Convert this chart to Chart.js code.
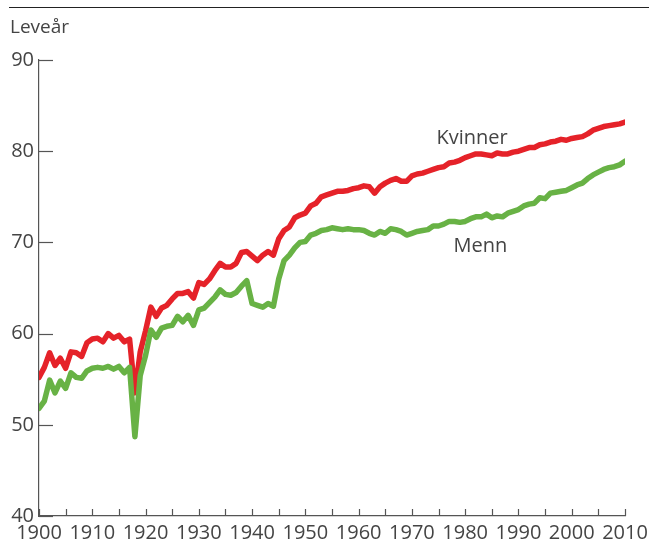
<!DOCTYPE html>
<html>
<head>
<meta charset="utf-8">
<script src="https://cdn.jsdelivr.net/npm/chart.js@4.4.0/dist/chart.umd.min.js"></script>
<style>
html,body{margin:0;padding:0;background:#fff;}
#wrap{width:649px;height:546px;position:relative;}
</style>
</head>
<body>
<div id="wrap"><canvas id="c" width="649" height="546"></canvas></div>
<script>
const startYear = 1900;
const endYear = 2010;
const yTickValues = [40, 50, 60, 70, 80, 90];
const xLabelYears = [1900,1910,1920,1930,1940,1950,1960,1970,1980,1990,2000,2010];
const yAxisTitle = 'Leveår';
const seriesNames = ['Kvinner', 'Menn'];

const kvinner = [
55.2,56.3,57.9,56.5,57.3,56.2,58.0,57.9,57.5,59.0,
59.4,59.5,59.1,60.0,59.5,59.8,59.1,59.4,53.5,58.0,
60.3,62.9,61.9,62.8,63.1,63.8,64.4,64.4,64.6,63.9,
65.6,65.4,66.0,66.9,67.7,67.3,67.3,67.7,68.9,69.0,
68.5,68.0,68.6,69.0,68.6,70.4,71.3,71.7,72.7,73.0,
73.2,74.0,74.3,75.0,75.2,75.4,75.6,75.6,75.7,75.9,
76.0,76.2,76.1,75.4,76.1,76.5,76.8,77.0,76.7,76.7,
77.3,77.5,77.6,77.8,78.0,78.2,78.3,78.7,78.8,79.0,
79.3,79.5,79.7,79.7,79.6,79.5,79.8,79.7,79.7,79.9,
80.0,80.2,80.4,80.4,80.7,80.8,81.0,81.1,81.3,81.2,
81.4,81.5,81.6,81.9,82.3,82.5,82.7,82.8,82.9,83.0,
83.2];

const menn = [
51.8,52.6,54.9,53.5,54.8,54.0,55.7,55.2,55.1,55.9,
56.2,56.3,56.2,56.4,56.1,56.4,55.7,56.3,48.7,55.4,
57.6,60.4,59.6,60.6,60.8,60.9,61.9,61.3,62.0,60.9,
62.6,62.8,63.4,64.0,64.8,64.3,64.2,64.5,65.2,65.8,
63.3,63.1,62.9,63.3,63.0,66.0,68.0,68.6,69.4,70.0,
70.1,70.8,71.0,71.3,71.4,71.6,71.5,71.4,71.5,71.4,
71.4,71.3,71.0,70.8,71.2,71.0,71.5,71.4,71.2,70.8,
71.0,71.2,71.3,71.4,71.8,71.8,72.0,72.3,72.3,72.2,
72.3,72.6,72.8,72.8,73.1,72.7,72.9,72.8,73.2,73.4,
73.6,74.0,74.2,74.3,74.9,74.8,75.4,75.5,75.6,75.7,
76.0,76.3,76.5,77.0,77.4,77.7,78.0,78.2,78.3,78.5,
78.9];

const years = kvinner.map((_, i) => startYear + i);

const RED = '#e52229';
const GREEN = '#68b245';
const TEXT = '#444444';
const AXIS = '#555555';
const FONT = "'Open Sans', 'Noto Sans', sans-serif";

const decor = {
  id: 'decor',
  afterDraw(chart) {
    const ctx = chart.ctx;
    const xs = chart.scales.x, ys = chart.scales.y;
    const ca = chart.chartArea;
    ctx.save();
    ctx.strokeStyle = '#222';
    ctx.lineWidth = 1;
    ctx.beginPath();
    ctx.moveTo(9, 7.5); ctx.lineTo(649, 7.5);
    ctx.stroke();
    ctx.strokeStyle = AXIS;
    ctx.lineWidth = 1.2;
    yTickValues.forEach(v => {
      const py = Math.round(ys.getPixelForValue(v)) + 0.5;
      ctx.beginPath();
      ctx.moveTo(ca.left, py); ctx.lineTo(ca.left + 14, py);
      ctx.stroke();
    });
    for (let yr = startYear; yr <= endYear; yr += 5) {
      const px = Math.round(xs.getPixelForValue(yr)) + 0.5;
      ctx.beginPath();
      ctx.moveTo(px, ca.bottom); ctx.lineTo(px, ca.bottom - 7);
      ctx.stroke();
    }
    ctx.fillStyle = TEXT;
    ctx.font = '19px ' + FONT;
    ctx.textAlign = 'left';
    ctx.textBaseline = 'middle';
    ctx.fillText(yAxisTitle, 10, 28);
    ctx.font = '20px ' + FONT;
    ctx.fillText(seriesNames[0], xs.getPixelForValue(1974.6), ys.getPixelForValue(81.4));
    ctx.fillText(seriesNames[1], xs.getPixelForValue(1977.8), ys.getPixelForValue(69.6));
    ctx.restore();
  }
};

new Chart(document.getElementById('c'), {
  type: 'line',
  data: {
    datasets: [
      { label: seriesNames[1], data: years.map((x, i) => ({x, y: menn[i]})),
        borderColor: GREEN, borderWidth: 5.5, pointRadius: 0, tension: 0,
        borderJoinStyle: 'round', borderCapStyle: 'round', fill: false },
      { label: seriesNames[0], data: years.map((x, i) => ({x, y: kvinner[i]})),
        borderColor: RED, borderWidth: 5.5, pointRadius: 0, tension: 0,
        borderJoinStyle: 'round', borderCapStyle: 'round', fill: false }
    ]
  },
  options: {
    responsive: false,
    animation: false,
    devicePixelRatio: 1,
    layout: { padding: { top: 60, right: 24, left: 0, bottom: 0 } },
    plugins: { legend: { display: false }, tooltip: { enabled: false } },
    scales: {
      x: {
        type: 'linear', min: startYear, max: endYear,
        afterFit(s) { s.height = 30; s.paddingLeft = 0; s.paddingRight = 0; },
        afterBuildTicks(s) { s.ticks = xLabelYears.map(v => ({ value: v })); },
        grid: { display: true, drawOnChartArea: false, drawTicks: false },
        border: { display: true, color: AXIS, width: 1.2 },
        ticks: { autoSkip: false, maxRotation: 0, minRotation: 0, padding: 5,
          color: TEXT, font: { size: 20, family: FONT },
          callback: v => String(v) }
      },
      y: {
        min: 40, max: 90,
        afterFit(s) { s.width = 39; s.paddingTop = 0; s.paddingBottom = 0; },
        afterBuildTicks(s) { s.ticks = yTickValues.map(v => ({ value: v })); },
        grid: { display: true, drawOnChartArea: false, drawTicks: false },
        border: { display: true, color: AXIS, width: 1.2 },
        ticks: { padding: 5, color: TEXT, font: { size: 20, family: FONT },
          callback: v => String(v) }
      }
    }
  },
  plugins: [decor]
});
</script>
</body>
</html>
